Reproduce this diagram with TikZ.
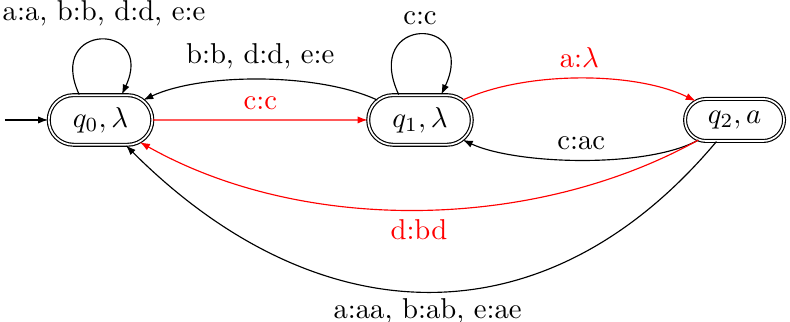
\documentclass[tikz,border=0pt]{standalone}
\usetikzlibrary{arrows.meta,shapes.misc}
\tikzset{>={Latex[length=3.5pt,width=2.5pt]},line width=.4pt,
  state/.style={rounded rectangle,draw,double,inner xsep=7.2pt,
    inner ysep=4.2pt},
  hot/.style={red}}

\begin{document}
\begin{tikzpicture}
\useasboundingbox (0,0) rectangle (9.674,3.943);
\node[state] (q0) at (1.231,2.474) {$q_0,\lambda$};
\node[state] (q1) at (5.143,2.474) {$q_1,\lambda$};
\node[state] (q2) at (8.995,2.474) {$q_2,a$};
\coordinate (start) at (.06,2.474);
\draw[->] (start)--(q0);
% loops
\draw[->] (q0.130) .. controls +(115:28pt) and +(65:28pt) .. node[above=1.2pt,xshift=1.2pt] {a:a, b:b, d:d, e:e} (q0.50);
\draw[->] (q1.130) .. controls +(115:30.7pt) and +(65:30.7pt) .. node[above] {c:c} (q1.50);
% between states
\draw[->,hot] (q0)--node[above] {c:c} (q1);
\draw[->] (q1) to[out=155,in=25,looseness=.71] node[above] {b:b, d:d, e:e} (q0);
\draw[->,hot] (q1) to[out=25,in=154,looseness=.75] node[above] {a:$\lambda$} (q2);
\draw[->] (q2) to[out=209,in=-25,looseness=.64] node[above] {c:ac} (q1);
\draw[->,hot] (q2) to[out=209,in=-29.5,looseness=.86] node[below] {d:bd} (q0);
\draw[->] (q2) to[out=230,in=-45,looseness=1.16] node[below=-1.2pt] {a:aa, b:ab, e:ae} (q0);
\end{tikzpicture}
\end{document}
